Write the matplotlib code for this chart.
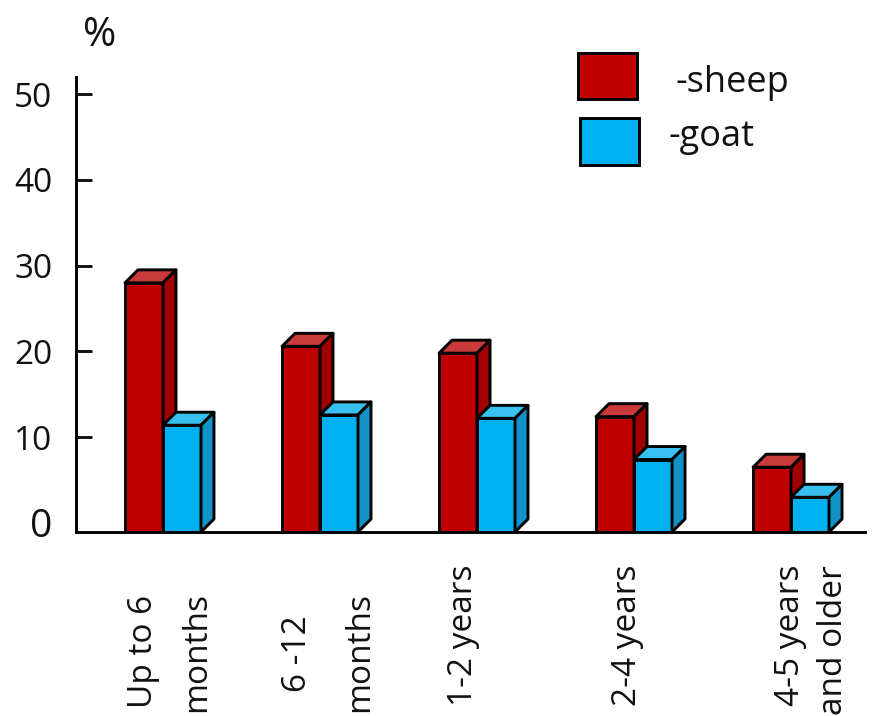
import matplotlib
matplotlib.use('Agg')
import matplotlib.pyplot as plt
from matplotlib.patches import Polygon, Rectangle

plt.rcParams['font.family'] = ['Open Sans', 'DejaVu Sans']

# share of animals by age group, %
age_groups = [['Up to 6', 'months'], ['6 -12', 'months'], ['1-2 years'],
              ['2-4 years'], ['4-5 years', 'and older']]
sheep = [28.0, 20.6, 19.8, 12.4, 6.5]
goat = [11.4, 12.6, 12.2, 7.4, 3.0]
series = ['-sheep', '-goat']
yticks = [0, 10, 20, 30, 40, 50]

# colours: front / top / side of each box
SHEEP_C = ('#c00000', '#c93a3a', '#a00000')
GOAT_C = ('#00b0f0', '#38c0f0', '#1192c8')
LW = 2.1

W, H = 880, 716
fig = plt.figure(figsize=(W / 100, H / 100), dpi=100)


def fx(px):
    return px / W


def fy(py):
    return 1 - py / H


ax = fig.add_axes([fx(76), fy(532), fx(865) - fx(76), fy(77) - fy(532)])
ax.set_xlim(-0.554, 4.471)
ax.set_ylim(-1.05, 52.0)
for s in ('top', 'right'):
    ax.spines[s].set_visible(False)
for s in ('left', 'bottom'):
    ax.spines[s].set_linewidth(LW)
    ax.spines[s].set_zorder(5)

ax.set_xticks([])
ax.set_yticks(yticks)
ax.tick_params(axis='y', direction='in', length=11.5, width=LW, pad=17,
               labelsize=24, colors='#111111')
t0 = ax.yaxis.get_major_ticks()[0]
t0.tick1line.set_visible(False)
t0.label1.set_fontsize(28)

# pseudo-3D boxes: front face from ax.bar, top and side as polygons
bar_w = 0.242
o = ax.transData.transform((0, 0))
sx, sy = ax.transData.transform((1, 1)) - o
dx, dy = 13 / sx, 13 / sy
y0 = ax.get_ylim()[0]
x = list(range(len(sheep)))


def boxes(xs, vals, cols, z):
    front, top, side = cols
    ax.bar(xs, [v - y0 for v in vals], bottom=y0, width=bar_w, align='edge',
           color=front, edgecolor='black', linewidth=LW, zorder=z)
    for xi, v in zip(xs, vals):
        x1 = xi + bar_w
        ax.add_patch(Polygon([(xi, v), (x1, v), (x1 + dx, v + dy), (xi + dx, v + dy)],
                             fc=top, ec='black', lw=LW, joinstyle='round', zorder=z))
        ax.add_patch(Polygon([(x1, y0), (x1 + dx, y0 + dy), (x1 + dx, v + dy), (x1, v)],
                             fc=side, ec='black', lw=LW, joinstyle='round', zorder=z))


boxes([i - bar_w for i in x], sheep, SHEEP_C, 2)
boxes(x, goat, GOAT_C, 3)

# rotated category labels, each line placed by its upper end
label_pos = [[(143, 595), (197, 592)], [(298, 615), (360, 592)], [(463, 565)],
             [(627, 565)], [(790, 565), (833, 565)]]
for lines, pos in zip(age_groups, label_pos):
    for line, (px, py) in zip(lines, pos):
        fig.text(fx(px), fy(py), line, rotation=90, rotation_mode='anchor',
                 ha='right', va='center', fontsize=24, color='#111111')

fig.text(fx(100), fy(36), '%', fontsize=29, ha='center', va='center', color='#111111')

# legend
for (l, t, r, b), col, name, (tx, ty) in zip(
        [(578, 53, 637, 99), (580, 118, 639, 165)], [SHEEP_C[0], GOAT_C[0]], series,
        [(675, 92), (668, 146)]):
    fig.add_artist(Rectangle((fx(l), fy(b)), fx(r) - fx(l), fy(t) - fy(b),
                             transform=fig.transFigure, fc=col, ec='black', lw=LW))
    fig.text(fx(tx), fy(ty), name, fontsize=26, ha='left', va='baseline', color='#111111')

fig.savefig('out.png', dpi=100)
